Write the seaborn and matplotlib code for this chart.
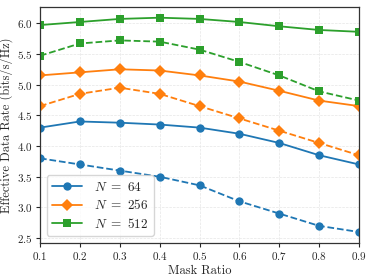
import pandas as pd
import seaborn as sns
import matplotlib.pyplot as plt

# Data
mask_ratio = [0.1, 0.2, 0.3, 0.4, 0.5, 0.6, 0.7, 0.8, 0.9]
n_labels = ['64', '256', '512']

rate_64_solid = [4.30, 4.40, 4.38, 4.35, 4.30, 4.20, 4.05, 3.85, 3.70]
rate_64_dashed = [3.80, 3.70, 3.60, 3.50, 3.36, 3.10, 2.90, 2.70, 2.60]
rate_256_solid = [5.15, 5.20, 5.25, 5.23, 5.15, 5.05, 4.90, 4.74, 4.65]
rate_256_dashed = [4.65, 4.85, 4.95, 4.85, 4.65, 4.45, 4.25, 4.05, 3.85]
rate_512_solid = [5.97, 6.02, 6.07, 6.09, 6.07, 6.02, 5.95, 5.89, 5.86]
rate_512_dashed = [5.47, 5.67, 5.72, 5.70, 5.57, 5.37, 5.15, 4.89, 4.74]

solid = [rate_64_solid, rate_256_solid, rate_512_solid]
dashed = [rate_64_dashed, rate_256_dashed, rate_512_dashed]
colors = ['#1f77b4', '#ff7f0e', '#2ca02c']
markers = ['o', 'D', 's']

sns.set_style('whitegrid')
plt.rcParams['font.family'] = 'serif'
plt.rcParams['font.serif'] = ['cmr10', 'DejaVu Serif']
plt.rcParams['mathtext.fontset'] = 'cm'
plt.rcParams['axes.formatter.use_mathtext'] = True

fig, ax = plt.subplots(figsize=(3.74, 2.79), dpi=100)

for i, n in enumerate(n_labels):
    df_s = pd.DataFrame({'x': mask_ratio, 'y': solid[i]})
    df_d = pd.DataFrame({'x': mask_ratio, 'y': dashed[i]})
    sns.lineplot(data=df_s, x='x', y='y', ax=ax, color=colors[i], marker=markers[i],
                 markersize=6, markeredgewidth=0, linewidth=1.3,
                 label=f'$N\\ =\\ {n}$')
    sns.lineplot(data=df_d, x='x', y='y', ax=ax, color=colors[i], marker=markers[i],
                 markersize=6, markeredgewidth=0, linewidth=1.3,
                 linestyle='--')

ax.set_xlim(0.1, 0.9)
ax.set_xticks(mask_ratio)
ax.set_yticks([2.5, 3.0, 3.5, 4.0, 4.5, 5.0, 5.5, 6.0])
ax.set_xlabel('Mask Ratio', fontsize=9, labelpad=2)
ax.set_ylabel('Effective Data Rate (bits/s/Hz)', fontsize=9, labelpad=3)
ax.tick_params(labelsize=8, length=3, pad=2, left=True, bottom=True)
ax.grid(True, linestyle='--', linewidth=0.5, color='#e6e6e6')
for sp in ax.spines.values():
    sp.set_color('#333333')
    sp.set_linewidth(0.9)

leg = ax.legend(loc='lower left', fontsize=9.5, frameon=True, handlelength=2.3,
                handletextpad=0.9, borderpad=0.4, labelspacing=0.35)
leg.get_frame().set_edgecolor('#cccccc')

plt.subplots_adjust(left=0.107, right=0.96, top=0.975, bottom=0.13)
plt.savefig('out.png', dpi=100)
